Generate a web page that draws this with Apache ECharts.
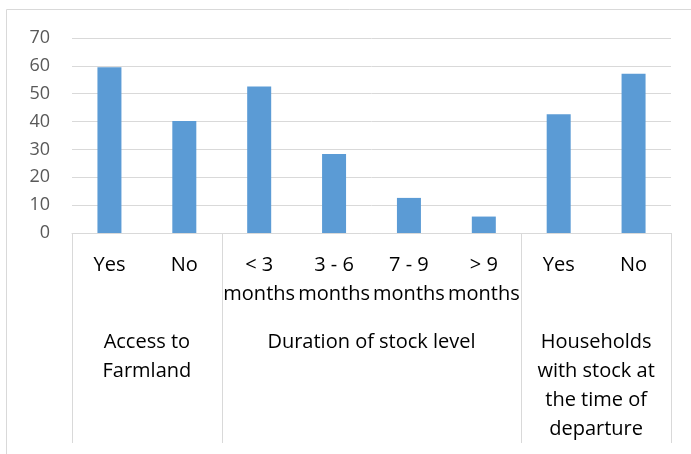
<!DOCTYPE html>
<html>
<head>
<meta charset="utf-8">
<script src="https://cdn.jsdelivr.net/npm/echarts@6/dist/echarts.min.js"></script>
<style>
  html, body { margin: 0; padding: 0; background: #fff; }
  #chart { width: 691px; height: 454px; }
</style>
</head>
<body>
<div id="chart"></div>
<script>
  // categories under each bar
  var categories = ['Yes', 'No', '< 3\nmonths', '3 - 6\nmonths', '7 - 9\nmonths', '> 9\nmonths', 'Yes', 'No'];
  // percentages
  var values = [59.5, 40.2, 52.6, 28.4, 12.6, 5.9, 42.6, 57.2];
  // group captions and where the groups start/stop (in category units)
  var groupNames = ['Access to\nFarmland', 'Duration of stock level', 'Households\nwith stock at\nthe time of\ndeparture'];
  var groupCenters = [1, 4, 7];
  var groupBounds = [0, 2, 6, 8];

  var font = '"Open Sans", Lato, sans-serif';
  var chart = echarts.init(document.getElementById('chart'));

  chart.setOption({
    animation: false,
    grid: { left: 72, right: 20, top: 38, bottom: 221, containLabel: false },
    graphic: [{
      type: 'rect',
      shape: { x: 6.5, y: 9.5, width: 720, height: 480 },
      style: { fill: 'none', stroke: '#d9d9d9', lineWidth: 1 },
      silent: true
    }],
    xAxis: [
      {
        type: 'category',
        data: categories,
        axisLine: { show: true, lineStyle: { color: '#d9d9d9', width: 1 } },
        axisTick: { show: false },
        axisLabel: {
          interval: 0,
          hideOverlap: false,
          margin: 18,
          color: '#000',
          fontFamily: font,
          fontSize: 20,
          lineHeight: 29
        }
      },
      {
        type: 'value',
        min: 0,
        max: 8,
        position: 'bottom',
        splitLine: { show: false },
        axisLine: { show: false },
        axisTick: {
          show: true,
          customValues: groupBounds,
          length: 210,
          lineStyle: { color: '#d9d9d9', width: 1 }
        },
        axisLabel: {
          customValues: groupCenters,
          margin: 95,
          color: '#000',
          fontFamily: font,
          fontSize: 20,
          lineHeight: 29,
          verticalAlign: 'top',
          formatter: function (v) {
            return groupNames[groupCenters.indexOf(v)];
          }
        }
      }
    ],
    yAxis: {
      type: 'value',
      min: 0,
      max: 70,
      interval: 10,
      axisLine: { show: false },
      axisTick: { show: false },
      splitLine: { lineStyle: { color: '#d9d9d9', width: 1 } },
      axisLabel: { margin: 22, color: '#595959', fontFamily: font, fontSize: 18 }
    },
    series: [{
      type: 'bar',
      data: values,
      barWidth: 24,
      itemStyle: { color: '#5b9bd5' }
    }]
  });
</script>
</body>
</html>
